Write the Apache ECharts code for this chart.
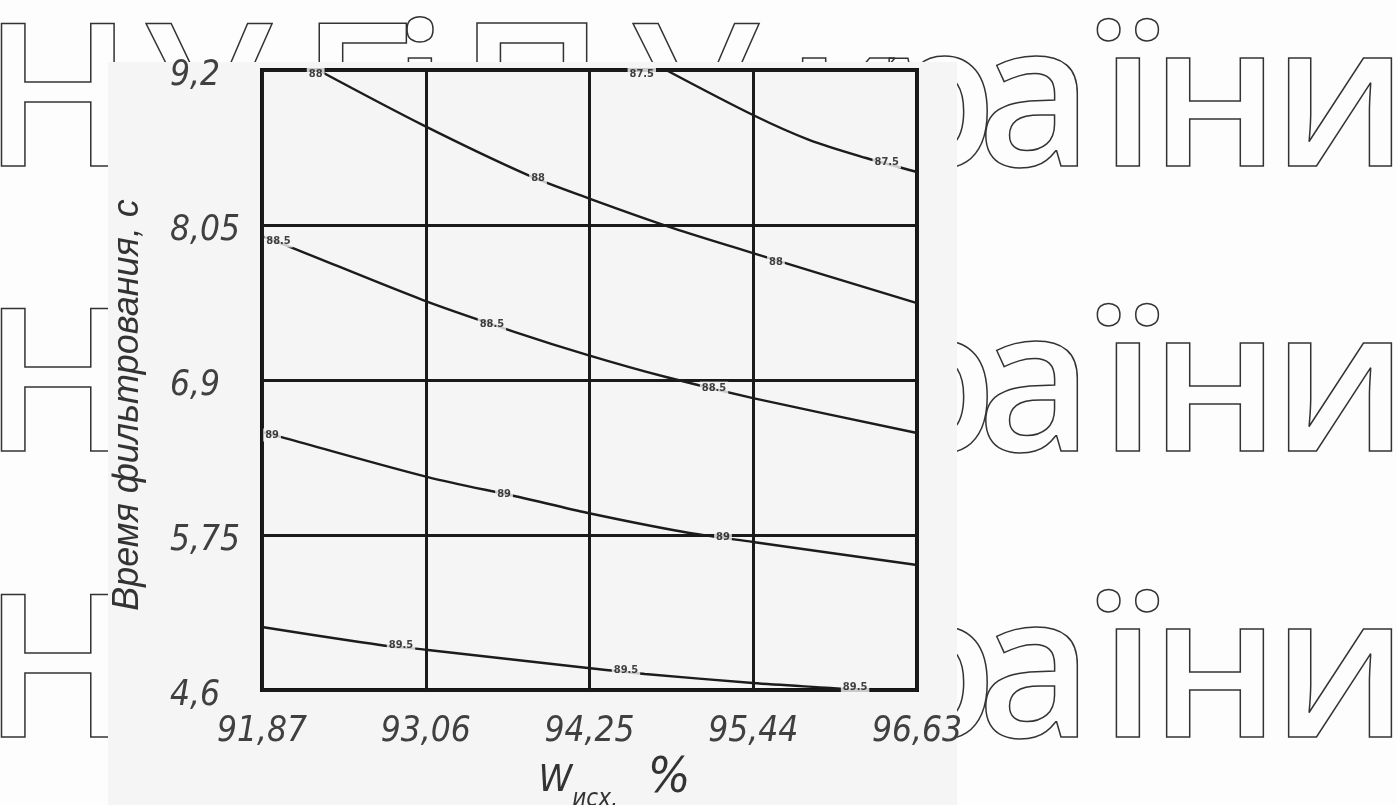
<!DOCTYPE html>
<html>
<head>
<meta charset="utf-8">
<script src="https://cdn.jsdelivr.net/npm/echarts@6/dist/echarts.min.js"></script>
<style>
html,body{margin:0;padding:0;background:#fdfdfd;}
#c{width:1397px;height:805px;}
</style>
</head>
<body>
<div id="c"></div>
<script>
// ---- data ----
const xTicks = [91.87, 93.06, 94.25, 95.44, 96.63];
const xTickLabels = ['91,87', '93,06', '94,25', '95,44', '96,63'];
const yTicks = [4.6, 5.75, 6.9, 8.05, 9.2];
const yTickLabels = ['4,6', '5,75', '6,9', '8,05', '9,2'];

const xTitle = 'W';
const xTitleSub = 'исх,';
const xTitleUnit = '%';
const yTitle = 'Время фильтрования, с';
const watermarkChars = ['Н', 'У', 'Б', 'і', 'П', 'У', 'к', 'р', 'а', 'ї', 'н', 'и'];

const line875 = [[94.806, 9.2], [95.438, 8.866], [95.85, 8.68], [96.26, 8.547], [96.63, 8.443]];
const line88 = [[92.277, 9.2], [93.04, 8.791], [93.803, 8.42], [94.239, 8.25], [94.857, 8.027], [95.438, 7.842], [96.63, 7.47]];
const line885 = [[91.87, 7.968], [92.095, 7.879], [93.04, 7.493], [93.709, 7.256], [94.239, 7.085], [94.806, 6.922], [95.438, 6.766], [96.63, 6.507]];
const line89 = [[91.87, 6.514], [92.037, 6.469], [93.076, 6.18], [93.738, 6.032], [94.239, 5.913], [94.937, 5.772], [95.438, 5.698], [96.63, 5.527]];
const line895 = [[91.87, 5.067], [92.728, 4.934], [93.076, 4.897], [94.239, 4.763], [94.653, 4.719], [95.438, 4.652], [96.0, 4.615], [96.22, 4.6]];

const contourLabels = [
  [92.26, 9.17, '88'],
  [94.63, 9.17, '87.5'],
  [96.41, 8.517, '87.5'],
  [93.876, 8.398, '88'],
  [95.605, 7.775, '88'],
  [91.99, 7.931, '88.5'],
  [93.541, 7.315, '88.5'],
  [95.155, 6.84, '88.5'],
  [91.943, 6.492, '89'],
  [93.629, 6.054, '89'],
  [95.22, 5.735, '89'],
  [92.88, 4.934, '89.5'],
  [94.515, 4.748, '89.5'],
  [96.18, 4.62, '89.5']
];

// ---- chart ----
const chart = echarts.init(document.getElementById('c'), null, {renderer: 'canvas'});
const tickFont = "'Liberation Sans Narrow', 'DejaVu Sans Condensed', sans-serif";
const scanColor = '#f5f5f5';

function lineSeries(name, data) {
  return {
    name: name, type: 'line', data: data, smooth: 0.3, showSymbol: false,
    lineStyle: {color: '#1c1c1c', width: 2.4}, z: 3, silent: true
  };
}
function labelFor(ticks, labels) {
  return function (v) {
    const i = ticks.findIndex(t => Math.abs(t - v) < 1e-6);
    return i >= 0 ? labels[i] : '';
  };
}

// watermark glyph centres (decoration)
const wmCenters = [58, 208, 363, 420, 532, 695, 843, 935, 1035, 1128, 1215, 1340];
const wmRows = [109, 394, 680];
const graphics = [];
wmRows.forEach(y => {
  watermarkChars.forEach((ch, i) => {
    graphics.push({
      type: 'text', x: wmCenters[i], y: y, z: -5, silent: true,
      style: {
        text: ch, fontSize: 200, fontWeight: 600, fontFamily: "'Open Sans', 'Noto Sans', sans-serif",
        fill: 'transparent', stroke: '#333', lineWidth: 1.5,
        align: 'center', verticalAlign: 'middle'
      }
    });
  });
});
graphics.push({
  type: 'rect', z: -4, silent: true,
  shape: {x: 108, y: 62, width: 849, height: 743},
  style: {fill: scanColor}
});

chart.setOption({
  animation: false,
  backgroundColor: '#fdfdfd',
  graphic: graphics,
  grid: {
    left: 262, right: 480, top: 70, bottom: 115,
    containLabel: false, outerBoundsMode: 'none',
    show: true, borderColor: '#111', borderWidth: 4, backgroundColor: 'transparent'
  },
  xAxis: {
    type: 'value', min: xTicks[0], max: xTicks[xTicks.length - 1],
    axisLine: {show: false},
    axisTick: {show: false, customValues: xTicks},
    splitLine: {show: true, lineStyle: {color: '#1a1a1a', width: 3}},
    axisLabel: {
      customValues: xTicks, formatter: labelFor(xTicks, xTickLabels),
      fontFamily: tickFont, fontStyle: 'italic', fontSize: 35, color: '#404040', margin: 24
    },
    name: '{w|' + xTitle + '}{s|' + xTitleSub + '}{p|' + xTitleUnit + '}',
    nameLocation: 'middle', nameGap: 58,
    nameTextStyle: {
      padding: [0, 0, 0, 50],
      rich: {
        w: {fontFamily: tickFont, fontStyle: 'italic', fontSize: 38, color: '#333', verticalAlign: 'bottom', padding: [0, 0, 12, 0]},
        s: {fontFamily: tickFont, fontStyle: 'italic', fontSize: 24, color: '#333', verticalAlign: 'bottom'},
        p: {fontFamily: tickFont, fontStyle: 'italic', fontSize: 50, color: '#333', verticalAlign: 'bottom', padding: [0, 0, 8, 30]}
      }
    }
  },
  yAxis: {
    type: 'value', min: yTicks[0], max: yTicks[yTicks.length - 1],
    axisLine: {show: false},
    axisTick: {show: false, customValues: yTicks},
    splitLine: {show: true, lineStyle: {color: '#1a1a1a', width: 3}},
    axisLabel: {
      customValues: yTicks, formatter: labelFor(yTicks, yTickLabels),
      fontFamily: tickFont, fontStyle: 'italic', fontSize: 35, color: '#404040',
      margin: 92, align: 'left', verticalAlign: 'top', lineHeight: 12
    },
    name: yTitle, nameLocation: 'middle', nameGap: 116,
    nameTextStyle: {fontFamily: "'Liberation Sans', sans-serif", fontStyle: 'italic', fontSize: 36, color: '#333', padding: [0, 50, 0, 0]}
  },
  series: [
    lineSeries('87.5', line875),
    lineSeries('88', line88),
    lineSeries('88.5', line885),
    lineSeries('89', line89),
    lineSeries('89.5', line895),
    {
      type: 'scatter', data: contourLabels, symbolSize: 1, z: 4, silent: true,
      itemStyle: {color: 'transparent'},
      encode: {x: 0, y: 1},
      label: {
        show: true, position: 'inside', formatter: p => p.value[2],
        fontFamily: "'DejaVu Sans Condensed', sans-serif", fontWeight: 'bold',
        fontSize: 11, color: '#111', backgroundColor: scanColor, padding: [1, 2]
      }
    }
  ]
});
</script>
</body>
</html>
